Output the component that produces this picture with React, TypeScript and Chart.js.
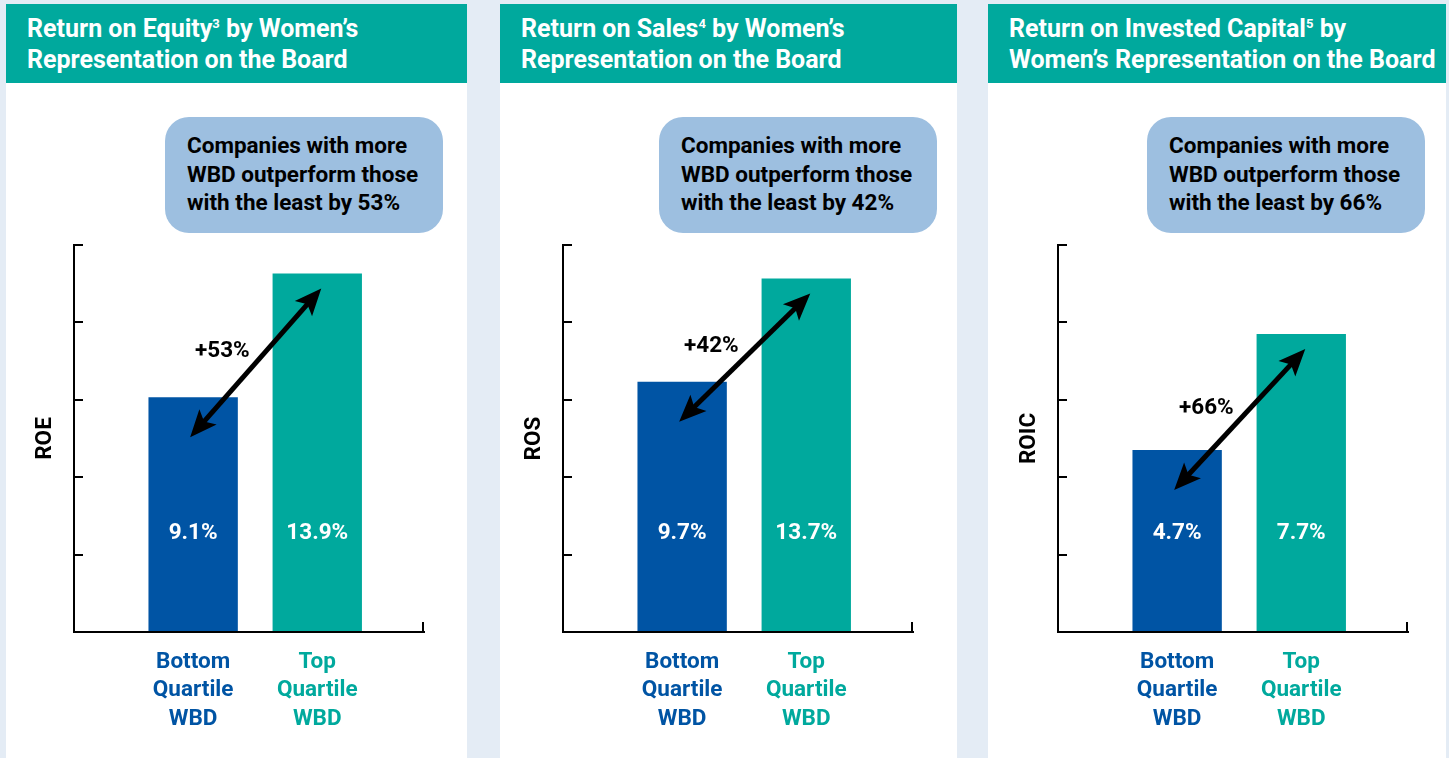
import React, { useEffect, useRef } from 'react';
import { Chart, registerables } from 'chart.js';

Chart.register(...registerables);

// ---------- data ----------
const categoryLabels: string[][] = [
  ['Bottom', 'Quartile', 'WBD'],
  ['Top', 'Quartile', 'WBD'],
];
const roeValues = [9.1, 13.9];
const rosValues = [9.7, 13.7];
const roicValues = [4.7, 7.7];

const axisTitles = ['ROE', 'ROS', 'ROIC'];
const uplifts = ['+53%', '+42%', '+66%'];
const yMaxes = [15, 15, 10];
const ySteps = [3, 3, 2];

const titleLine1Pre = ['Return on Equity', 'Return on Sales', 'Return on Invested Capital'];
const titleSup = ['3', '4', '5'];
const titleLine1Post = [' by Women’s', ' by Women’s', ' by'];
const titleLine2 = ['Representation on the Board', 'Representation on the Board', 'Women’s Representation on the Board'];

const calloutLines = [
  ['Companies with more', 'WBD outperform those', 'with the least by 53%'],
  ['Companies with more', 'WBD outperform those', 'with the least by 42%'],
  ['Companies with more', 'WBD outperform those', 'with the least by 66%'],
];

// ---------- styles ----------
const FAMILY = 'Roboto, "Open Sans", "DejaVu Sans", sans-serif';
const TEAL = '#00a99d';
const BLUE = '#0054a4';
const BG = '#e4ecf5';
const CALLOUT = '#9dbfe0';
const barColors = [BLUE, TEAL];

const panelLefts = [6, 500, 988];
const panelWidths = [461, 457, 458];
const axisOffsets = [68, 63, 70];
const PLOT_W = 350;
const CANVAS_H = 675;

function makeAnnotPlugin(values: number[], uplift: string) {
  return {
    id: 'annot',
    afterDatasetsDraw(chart: any) {
      const ctx = chart.ctx as CanvasRenderingContext2D;
      const meta = chart.getDatasetMeta(0);
      const bars = meta.data as any[];
      const base = chart.scales.y.getPixelForValue(0);
      ctx.save();
      // values inside bars
      ctx.font = `bold 22.5px ${FAMILY}`;
      ctx.fillStyle = '#ffffff';
      ctx.textAlign = 'center';
      ctx.textBaseline = 'middle';
      bars.forEach((b, i) => {
        ctx.fillText(`${values[i].toFixed(1)}%`, b.x, base - 99);
      });
      // double arrow
      const b1 = bars[0];
      const b2 = bars[1];
      const x1 = b1.x - 3, y1 = b1.y + 40;
      const x2 = b2.x + 4, y2 = b2.y + 15;
      const a = Math.atan2(y2 - y1, x2 - x1);
      const c = Math.cos(a), s = Math.sin(a);
      const L = 27, H = 11.5;
      ctx.strokeStyle = '#000';
      ctx.fillStyle = '#000';
      ctx.lineWidth = 5;
      ctx.beginPath();
      ctx.moveTo(x1 + c * L * 0.7, y1 + s * L * 0.7);
      ctx.lineTo(x2 - c * L * 0.7, y2 - s * L * 0.7);
      ctx.stroke();
      const head = (tx: number, ty: number, dc: number, ds: number) => {
        ctx.beginPath();
        ctx.moveTo(tx, ty);
        ctx.lineTo(tx - L * dc + H * ds, ty - L * ds - H * dc);
        ctx.lineTo(tx - L * 0.78 * dc, ty - L * 0.78 * ds);
        ctx.lineTo(tx - L * dc - H * ds, ty - L * ds + H * dc);
        ctx.closePath();
        ctx.fill();
      };
      head(x2, y2, c, s);
      head(x1, y1, -c, -s);
      // uplift label
      const mx = (x1 + x2) / 2, my = (y1 + y2) / 2;
      ctx.fillStyle = '#000';
      ctx.textAlign = 'right';
      ctx.fillText(uplift, mx - 6, my - 11);
      // right end cap of x axis
      const { right, bottom } = chart.chartArea;
      ctx.lineWidth = 2;
      ctx.beginPath();
      ctx.moveTo(right - 1, bottom);
      ctx.lineTo(right - 1, bottom - 10);
      ctx.stroke();
      ctx.restore();
    },
  };
}

function Panel({ idx, values }: { idx: number; values: number[] }) {
  const ref = useRef<HTMLCanvasElement>(null);
  const left = panelLefts[idx];
  const width = panelWidths[idx];
  const axis = axisOffsets[idx];

  useEffect(() => {
    if (!ref.current) return;
    const chart = new Chart(ref.current, {
      type: 'bar',
      data: {
        datasets: [
          {
            data: values.map((v, i) => ({ x: i + 1, y: v })),
            backgroundColor: barColors,
            borderWidth: 0,
          },
        ],
      },
      options: {
        animation: false,
        responsive: true,
        maintainAspectRatio: false,
        layout: { padding: { top: 162, right: width - axis - PLOT_W, bottom: 26, left: 0 } },
        plugins: { legend: { display: false }, tooltip: { enabled: false } },
        scales: {
          x: {
            type: 'linear',
            min: 0.04,
            max: 2.86,
            offset: false,
            bounds: 'data',
            grid: { display: false },
            border: { display: true, color: '#000', width: 2 },
            afterBuildTicks: (s: any) => {
              s.ticks = categoryLabels.map((_, i) => ({ value: i + 1 }));
            },
            afterFit: (s: any) => {
              s.height = 100;
            },
            ticks: {
              autoSkip: false,
              maxRotation: 0,
              minRotation: 0,
              padding: 8,
              callback: (v: any) => categoryLabels[Math.round(v) - 1],
              color: (c: any) => barColors[c.index],
              font: { family: FAMILY, size: 22.5, weight: 'bold', lineHeight: 1.27 },
            },
          },
          y: {
            min: 0,
            max: yMaxes[idx],
            afterFit: (s: any) => {
              s.width = axis;
            },
            ticks: { display: false, stepSize: ySteps[idx] },
            grid: {
              drawOnChartArea: false,
              drawTicks: true,
              tickLength: -9,
              color: '#000',
              lineWidth: 2,
            },
            border: { display: true, color: '#000', width: 2 },
            title: {
              display: true,
              text: axisTitles[idx],
              color: '#000',
              font: { family: FAMILY, size: 22.5, weight: 'bold', lineHeight: 1.2 },
              padding: { top: axis - 29 - 13.5, bottom: 0 },
            },
          },
        },
      } as any,
      plugins: [makeAnnotPlugin(values, uplifts[idx])],
    });
    return () => chart.destroy();
  }, []);

  return (
    <div
      style={{
        position: 'absolute',
        left,
        top: 4,
        width,
        height: 758 - 4,
        background: '#ffffff',
      }}
    >
      <div
        style={{
          position: 'absolute',
          left: 0,
          top: 0,
          width,
          height: 79,
          background: TEAL,
          color: '#ffffff',
          fontFamily: FAMILY,
          fontWeight: 'bold',
          fontSize: 25,
          lineHeight: '31px',
          paddingLeft: 21,
          paddingTop: 9,
          boxSizing: 'border-box',
          whiteSpace: 'nowrap',
        }}
      >
        <div>
          {titleLine1Pre[idx]}
          <span style={{ fontSize: 13, verticalAlign: 'top', lineHeight: '22px' }}>{titleSup[idx]}</span>
          {titleLine1Post[idx]}
        </div>
        <div>{titleLine2[idx]}</div>
      </div>
      <div
        style={{
          position: 'absolute',
          left: 0,
          top: 79,
          width,
          height: CANVAS_H,
        }}
      >
        <canvas ref={ref} />
      </div>
      <div
        style={{
          position: 'absolute',
          left: 159,
          top: 113,
          width: 278,
          height: 116,
          borderRadius: 24,
          background: CALLOUT,
          color: '#000',
          fontFamily: FAMILY,
          fontWeight: 'bold',
          fontSize: 22.5,
          lineHeight: '28.5px',
          paddingLeft: 22,
          paddingTop: 14,
          boxSizing: 'border-box',
          whiteSpace: 'nowrap',
        }}
      >
        {calloutLines[idx].map((l, i) => (
          <div key={i}>{l}</div>
        ))}
      </div>
    </div>
  );
}

export default function App() {
  return (
    <div
      style={{
        position: 'fixed',
        left: 0,
        top: 0,
        width: 1449,
        height: 758,
        background: BG,
        overflow: 'hidden',
      }}
    >
      <Panel idx={0} values={roeValues} />
      <Panel idx={1} values={rosValues} />
      <Panel idx={2} values={roicValues} />
    </div>
  );
}
